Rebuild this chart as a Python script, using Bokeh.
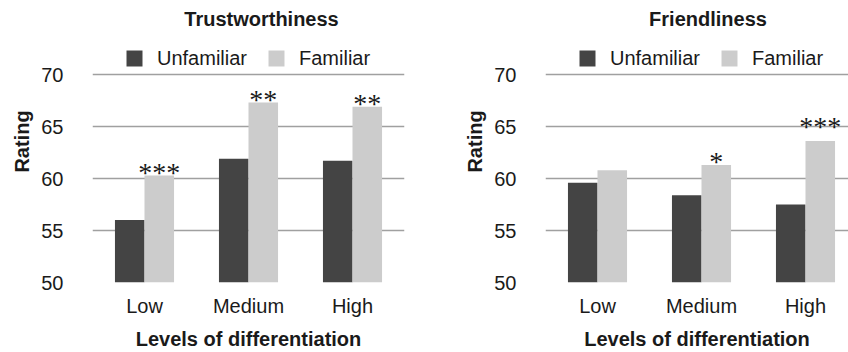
from bokeh.plotting import figure
from bokeh.models import Range1d, FixedTicker, Legend, LegendItem, Label, ColumnDataSource
from bokeh.layouts import row
from bokeh.embed import file_html
from bokeh.resources import INLINE
from bokeh.core.properties import value

levels = ["Low", "Medium", "High"]
series_names = ["Unfamiliar", "Familiar"]
trust_unfamiliar = [56.0, 61.9, 61.7]
trust_familiar = [60.3, 67.3, 66.9]
trust_sig = ["***", "**", "**"]
friend_unfamiliar = [59.6, 58.4, 57.5]
friend_familiar = [60.8, 61.3, 63.6]
friend_sig = ["", "*", "***"]
y_ticks = [50, 55, 60, 65, 70]
grid_ticks = [55, 60, 65, 70]

DARK = "#444444"
LIGHT = "#cccccc"
TEXT = "#1a1a1a"
SANS = "Liberation Sans"
BAR_W = 0.284

FIG_H = 352
BOTTOM = 70
FRAME_H = FIG_H - BOTTOM
PX_PER_UNIT = 10.4
Y_TOP = 50 + FRAME_H / PX_PER_UNIT


def make_chart(title, unf, fam, sig, sig_lift, width, bl, br, x_end, title_x):
    p = figure(width=width, height=FIG_H, x_range=Range1d(0, x_end), y_range=Range1d(50, Y_TOP),
               output_backend="svg", toolbar_location=None,
               min_border_left=bl, min_border_right=br, min_border_top=0, min_border_bottom=BOTTOM,
               outline_line_color=None, background_fill_color="white", border_fill_color="white")
    p.title.visible = False
    centers = [i + 0.5 for i in range(len(levels))]
    src = ColumnDataSource(dict(
        xu=[c - BAR_W / 2 for c in centers],
        xf=[c + BAR_W / 2 for c in centers],
        unf=unf, fam=fam, sig=sig,
        yoff=[-3 - l for l in sig_lift],
    ))
    r1 = p.vbar(x="xu", top="unf", bottom=50, width=BAR_W, source=src,
                fill_color=DARK, line_color=None)
    r2 = p.vbar(x="xf", top="fam", bottom=50, width=BAR_W, source=src,
                fill_color=LIGHT, line_color=None)
    p.text(x="xf", y="fam", text="sig", source=src, y_offset="yoff",
           text_font=value("Liberation Serif"), text_font_size="28px",
           text_align="center", text_baseline="alphabetic", text_color=TEXT)

    # axes
    p.xaxis.ticker = FixedTicker(ticks=centers)
    p.xaxis.major_label_overrides = {c: lab for c, lab in zip(centers, levels)}
    p.yaxis.ticker = FixedTicker(ticks=y_ticks)
    for ax in (p.xaxis, p.yaxis):
        ax.axis_line_color = None
        ax.major_tick_line_color = None
        ax.minor_tick_line_color = None
        ax.major_label_text_font = SANS
        ax.major_label_text_font_size = "20px"
        ax.major_label_text_color = TEXT
        ax.axis_label_text_font = SANS
        ax.axis_label_text_font_style = "bold"
        ax.axis_label_text_font_size = "20px"
        ax.axis_label_text_color = TEXT
    p.xaxis.axis_label = "Levels of differentiation"
    p.xaxis.major_label_standoff = 6
    p.xaxis.axis_label_standoff = 8
    p.yaxis.axis_label = "Rating"
    p.yaxis.major_label_standoff = 23
    p.yaxis.axis_label_standoff = 5

    p.xgrid.grid_line_color = None
    p.ygrid.ticker = FixedTicker(ticks=grid_ticks)
    p.ygrid.grid_line_color = "#a0a0a0"
    p.ygrid.grid_line_width = 1.5

    # legend bottom sits about 5 px above the 70 gridline
    legend_bottom = (70 - 50) * PX_PER_UNIT + 4.5
    legend = Legend(items=[LegendItem(label=series_names[0], renderers=[r1]),
                           LegendItem(label=series_names[1], renderers=[r2])],
                    orientation="horizontal", location=(32, legend_bottom),
                    glyph_width=20, glyph_height=20, label_standoff=13, spacing=19,
                    padding=0, margin=0, border_line_color=None, background_fill_alpha=0,
                    label_text_font=SANS, label_text_font_size="20px", label_text_color=TEXT)
    p.add_layout(legend, "center")

    p.add_layout(Label(x=title_x, y=(70 - 50) * PX_PER_UNIT + 56, x_units="screen", y_units="screen",
                       text=title, text_font=SANS, text_font_style="bold", text_font_size="20px",
                       text_color=TEXT, text_align="center", text_baseline="alphabetic"))
    return p


p1 = make_chart("Trustworthiness", trust_unfamiliar, trust_familiar, trust_sig, [0, 0, 0],
                455, 92, 51, 3.0, 169)
p2 = make_chart("Friendliness", friend_unfamiliar, friend_familiar, friend_sig, [0, 0, 12],
                393, 90, 0, 303 / 104, 162.5)

layout = row(p1, p2)
open("out.html", "w").write(file_html(layout, INLINE))
